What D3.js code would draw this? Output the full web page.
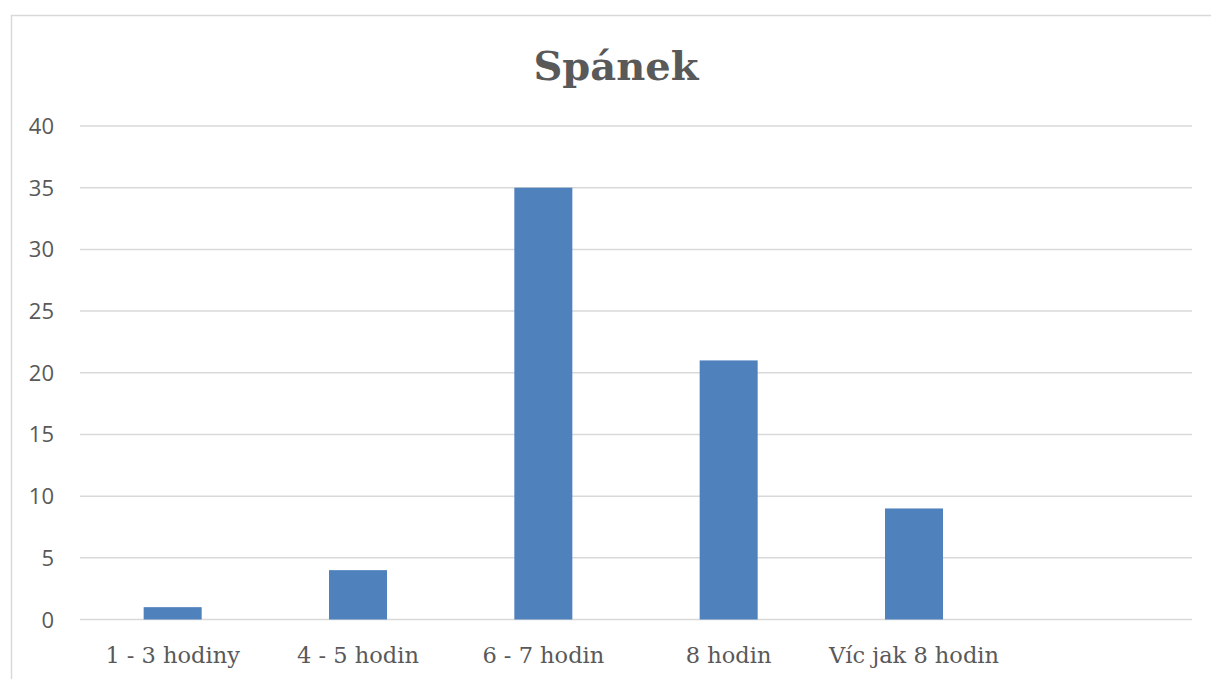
<!doctype html>
<html>
<head>
<meta charset="utf-8">
<title>Spánek</title>
<script src="https://cdn.jsdelivr.net/npm/d3@7"></script>
<style>
  body { margin: 0; background: #ffffff; }
</style>
</head>
<body>
<script>
// data
var categories = ["1 - 3 hodiny", "4 - 5 hodin", "6 - 7 hodin", "8 hodin", "Víc jak 8 hodin", ""];
var values = [1, 4, 35, 21, 9, null];
var yTicks = [0, 5, 10, 15, 20, 25, 30, 35, 40];

var w = 1211, h = 679;
var plotL = 80, plotR = 1192, plotT = 126, plotB = 619.5;

var svg = d3.select("body").append("svg")
  .attr("width", w)
  .attr("height", h);

// chart border
svg.append("rect")
  .attr("x", 11.5).attr("y", 15.5)
  .attr("width", 1240).attr("height", 700)
  .attr("fill", "none")
  .attr("stroke", "#d9d9d9")
  .attr("stroke-width", 1.5);

var x = d3.scaleBand()
  .domain(categories.map(function(d, i) { return i; }))
  .range([plotL, plotR])
  .paddingInner(0.687)
  .paddingOuter(0.3435);

var y = d3.scaleLinear().domain([0, 40]).range([plotB, plotT]);

// gridlines
svg.append("g")
  .selectAll("line")
  .data(yTicks)
  .enter()
  .append("line")
  .attr("x1", plotL).attr("x2", plotR)
  .attr("y1", function(d) { return y(d); })
  .attr("y2", function(d) { return y(d); })
  .attr("stroke", "#d9d9d9")
  .attr("stroke-width", 1.5);

// y tick labels
svg.append("g")
  .selectAll("text")
  .data(yTicks)
  .enter()
  .append("text")
  .attr("x", 54)
  .attr("y", function(d) { return y(d) + 8; })
  .attr("text-anchor", "end")
  .attr("font-family", "'Open Sans', sans-serif")
  .attr("font-size", "22px")
  .attr("fill", "#595959")
  .text(function(d) { return d; });

// bars
svg.append("g")
  .selectAll("rect")
  .data(values.map(function(v, i) { return {i: i, v: v}; }).filter(function(d) { return d.v != null; }))
  .enter()
  .append("rect")
  .attr("x", function(d) { return x(d.i); })
  .attr("width", x.bandwidth())
  .attr("y", function(d) { return y(d.v); })
  .attr("height", function(d) { return y(0) - y(d.v); })
  .attr("fill", "#4f81bd");

// x labels
svg.append("g")
  .selectAll("text")
  .data(categories)
  .enter()
  .append("text")
  .attr("x", function(d, i) { return x(i) + x.bandwidth() / 2; })
  .attr("y", 663)
  .attr("text-anchor", "middle")
  .attr("font-family", "'DejaVu Serif', serif")
  .attr("font-size", "22.5px")
  .attr("fill", "#595959")
  .text(function(d) { return d; });

// title
svg.append("text")
  .attr("x", 616)
  .attr("y", 80)
  .attr("text-anchor", "middle")
  .attr("font-family", "'DejaVu Serif', serif")
  .attr("font-weight", "bold")
  .attr("font-size", "40px")
  .attr("fill", "#595959")
  .text("Spánek");
</script>
</body>
</html>
